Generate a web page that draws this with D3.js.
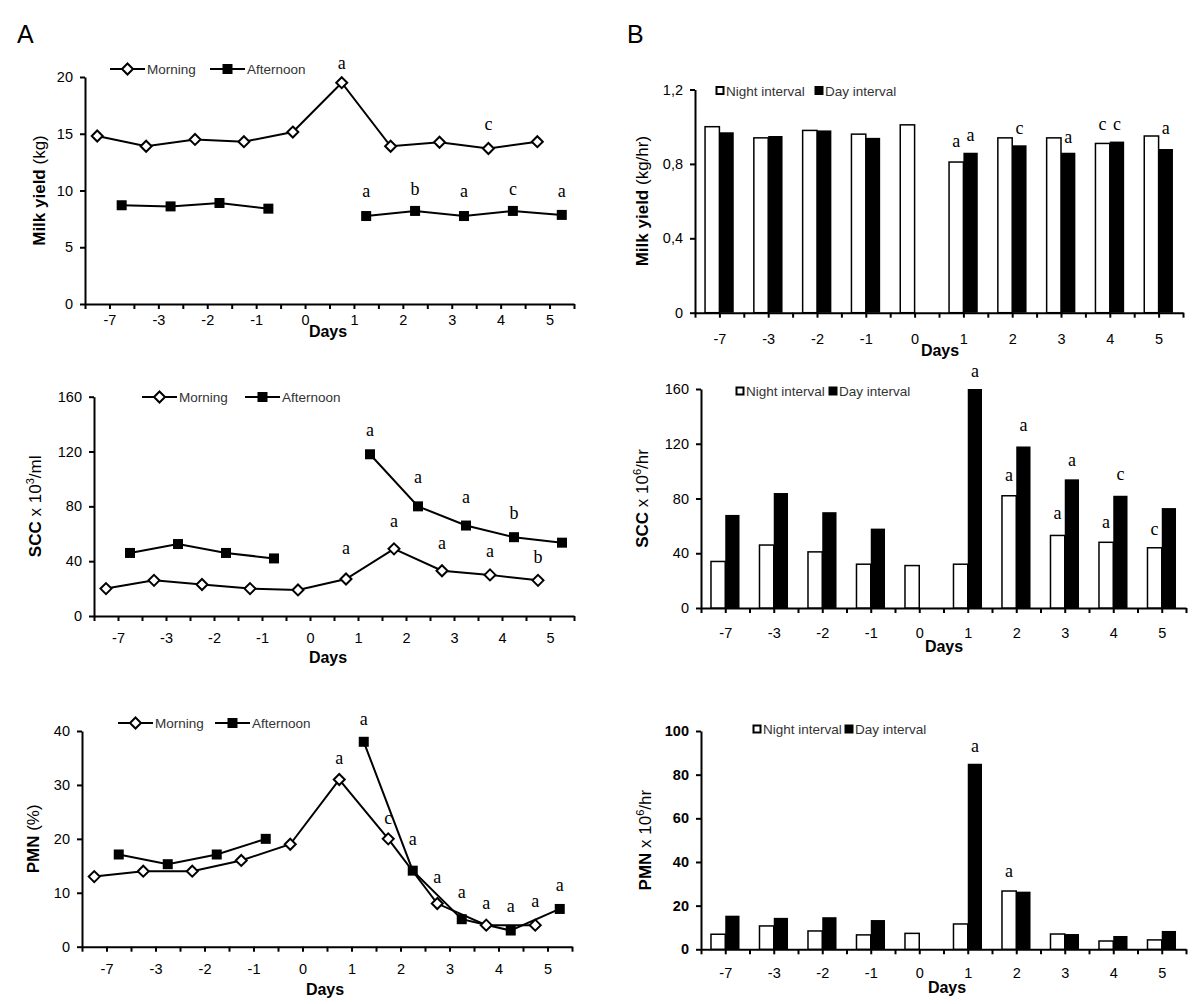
<!DOCTYPE html>
<html>
<head>
<meta charset="utf-8">
<script src="https://cdn.jsdelivr.net/npm/d3@7/dist/d3.min.js"></script>
<style>
  html, body { margin: 0; padding: 0; background: #fff; }
  svg { display: block; }
</style>
</head>
<body>
<svg id="chart" width="1200" height="1004"></svg>
<script>
// ---------------- DATA ----------------
const days = ["-7", "-3", "-2", "-1", "0", "1", "2", "3", "4", "5"];

// Panel A: morning / afternoon milkings
const milkMorning   = [14.8, 13.9, 14.5, 14.3, 15.15, 19.5, 13.9, 14.25, 13.7, 14.3];
const milkAfternoon = [8.7, 8.6, 8.9, 8.4, null, 7.75, 8.2, 7.75, 8.2, 7.85];
const sccMorning    = [20, 26, 23, 20, 19, 27, 49, 33, 30, 26];
const sccAfternoon  = [46, 52.5, 46, 42, null, 118, 80, 66, 57.5, 53.5];
const pmnMorning    = [13, 14, 14, 16, 19, 31, 20, 8, 4, 4];
const pmnAfternoon  = [17.1, 15.3, 17.1, 20, null, 38, 14.1, 5.1, 3, 7];

// Panel B: night / day intervals
const milkNight = [1.0, 0.94, 0.98, 0.96, 1.01, 0.81, 0.94, 0.94, 0.91, 0.95];
const milkDay   = [0.97, 0.95, 0.98, 0.94, null, 0.86, 0.90, 0.86, 0.92, 0.88];
const sccNight  = [34, 46, 41, 32, 31, 32, 82, 53, 48, 44];
const sccDay    = [68, 84, 70, 58, null, 160, 118, 94, 82, 73];
const pmnNight  = [6.9, 10.7, 8.4, 6.6, 7.3, 11.6, 26.7, 7.0, 3.8, 4.3];
const pmnDay    = [15.4, 14.4, 14.7, 13.4, null, 85, 26.4, 7.0, 6.1, 8.4];

// tick values
const milkTicks     = [0, 5, 10, 15, 20];
const sccTicks      = [0, 40, 80, 120, 160];
const pmnPctTicks   = [0, 10, 20, 30, 40];
const milkRateTicks = [0, 0.4, 0.8, 1.2];
const pmnRateTicks  = [0, 20, 40, 60, 80, 100];

// significance letters: day, series, letter, value at letter baseline
const milkLetters = [
  ["1", "morning", "a", 20.7], ["4", "morning", "c", 15.3],
  ["1", "afternoon", "a", 9.4], ["2", "afternoon", "b", 9.6], ["3", "afternoon", "a", 9.4],
  ["4", "afternoon", "c", 9.6], ["5", "afternoon", "a", 9.4]
];
const sccLetters = [
  ["1", "morning", "a", 45.2], ["2", "morning", "a", 64.7], ["3", "morning", "a", 49.1],
  ["4", "morning", "a", 42.8], ["5", "morning", "b", 38.4],
  ["1", "afternoon", "a", 131.5], ["2", "afternoon", "a", 96.8], ["3", "afternoon", "a", 82.2],
  ["4", "afternoon", "b", 70.8]
];
const pmnLetters = [
  ["1", "morning", "a", 33.9], ["2", "morning", "c", 22.75], ["3", "morning", "a", 11.9],
  ["4", "morning", "a", 7.05], ["5", "morning", "a", 7.36],
  ["1", "afternoon", "a", 41.2], ["2", "afternoon", "a", 18.9], ["3", "afternoon", "a", 9.1],
  ["4", "afternoon", "a", 6.4], ["5", "afternoon", "a", 10.4]
];
const milkRateLetters = [
  ["1", "night", "a", 0.891], ["1", "day", "a", 0.922], ["2", "day", "c", 0.963],
  ["3", "day", "a", 0.91], ["4", "night", "c", 0.981], ["4", "day", "c", 0.981],
  ["5", "day", "a", 0.963]
];
const sccRateLetters = [
  ["1", "day", "a", 168.5], ["2", "day", "a", 129.5], ["2", "night", "a", 92.9],
  ["3", "day", "a", 103.7], ["3", "night", "a", 64.9], ["4", "day", "c", 93.4],
  ["4", "night", "a", 58.1], ["5", "night", "c", 53.2]
];
const pmnRateLetters = [
  ["1", "day", "a", 90.5], ["2", "night", "a", 33.0]
];

// ---------------- DRAWING ----------------
const SANS = "'Liberation Sans', Arial, Helvetica, sans-serif";
const SERIF = "'Liberation Serif', 'Times New Roman', serif";
const svg = d3.select("#chart");

svg.append("text").attr("x", 17).attr("y", 43).attr("font-family", SANS)
  .attr("font-size", 25).text("A");
svg.append("text").attr("x", 627).attr("y", 43).attr("font-family", SANS)
  .attr("font-size", 25).text("B");

function styleAxis(g) {
  g.select(".domain").attr("stroke", "#000").attr("stroke-width", 2);
  g.selectAll(".tick line").attr("stroke", "#000").attr("stroke-width", 2);
  g.selectAll(".tick text").attr("fill", "#000").attr("font-family", SANS).attr("font-size", 14.5);
}

function drawFrame(cfg, yMax, ticks, fmt) {
  const x = d3.scaleLinear().domain([0, days.length]).range([cfg.l, cfg.r]);
  const y = d3.scaleLinear().domain([0, yMax]).range([cfg.b, cfg.t]);

  const xa = svg.append("g").attr("transform", `translate(0,${cfg.b})`)
    .call(d3.axisBottom(x).tickValues(d3.range(0, days.length + 0.01, 0.5))
      .tickSize(5).tickSizeOuter(0)
      .tickFormat(v => (v % 1 === 0.5) ? days[Math.floor(v)] : ""));
  styleAxis(xa);
  xa.selectAll(".tick text").attr("y", cfg.lab - cfg.b).attr("dy", 0);

  const ya = svg.append("g").attr("transform", `translate(${cfg.l},0)`)
    .call(d3.axisLeft(y).tickValues(ticks).tickSize(5).tickSizeOuter(0).tickPadding(7)
      .tickFormat(fmt || (v => String(v))));
  styleAxis(ya);
  if (cfg.boldY) ya.selectAll(".tick text").attr("font-weight", "bold");

  svg.append("text").attr("x", cfg.daysX).attr("y", cfg.daysY).attr("text-anchor", "middle")
    .attr("font-family", SANS).attr("font-size", 16).attr("font-weight", "bold").text("Days");

  const t = svg.append("text")
    .attr("transform", `translate(${cfg.titleX},${(cfg.t + cfg.b) / 2}) rotate(-90)`)
    .attr("text-anchor", "middle").attr("font-family", SANS).attr("font-size", 17);
  cfg.title.forEach(p => {
    const ts = t.append("tspan").text(p.s);
    if (p.bold) ts.attr("font-weight", "bold");
    if (p.sup) ts.attr("font-size", 11).attr("dy", -7);
    if (p.after) ts.attr("dy", 7);
  });
  return { x, y };
}

function diamond(g, cx, cy) {
  g.append("path").attr("d", `M${cx},${cy - 5.5}L${cx + 5.5},${cy}L${cx},${cy + 5.5}L${cx - 5.5},${cy}Z`)
    .attr("fill", "#fff").attr("stroke", "#000").attr("stroke-width", 2);
}
function square(g, cx, cy) {
  g.append("rect").attr("x", cx - 5).attr("y", cy - 5).attr("width", 10).attr("height", 10)
    .attr("fill", "#000");
}

function lineChart(cfg, yMax, ticks, morning, afternoon, letters) {
  const { x, y } = drawFrame(cfg, yMax, ticks);
  const g = svg.append("g");
  const series = [
    { vals: morning, off: 0.25, mk: diamond },
    { vals: afternoon, off: 0.75, mk: square }
  ];
  const line = d3.line().defined(d => d.v !== null).x(d => x(d.i + d.off)).y(d => y(d.v));
  series.forEach(s => {
    const pts = s.vals.map((v, i) => ({ v, i, off: s.off }));
    g.append("path").datum(pts).attr("d", line).attr("fill", "none")
      .attr("stroke", "#000").attr("stroke-width", 2);
  });
  series.forEach(s => {
    s.vals.forEach((v, i) => { if (v !== null) s.mk(g, x(i + s.off), y(v)); });
  });
  letters.forEach(([d, s, txt, v]) => {
    const i = days.indexOf(d);
    g.append("text").attr("x", x(i + (s === "morning" ? 0.25 : 0.75))).attr("y", y(v))
      .attr("text-anchor", "middle").attr("font-family", SERIF).attr("font-size", 18).text(txt);
  });
  // legend
  const L = cfg.leg;
  const lg = svg.append("g");
  [[L.m, diamond, "Morning"], [L.a, square, "Afternoon"]].forEach(([p, mk, name]) => {
    lg.append("line").attr("x1", p[0]).attr("x2", p[1]).attr("y1", L.y).attr("y2", L.y)
      .attr("stroke", "#000").attr("stroke-width", 2);
    mk(lg, (p[0] + p[1]) / 2, L.y);
    lg.append("text").attr("x", p[1] + 2).attr("y", L.y + 5).attr("font-family", SANS)
      .attr("font-size", 13.5).attr("fill", "#333").text(name);
  });
}

function barChart(cfg, yMax, ticks, night, day, letters, fmt) {
  const { y } = drawFrame(cfg, yMax, ticks, fmt);
  const xb = d3.scaleBand().domain(days).range([cfg.l, cfg.r]).padding(0);
  const sub = d3.scaleBand().domain(["night", "day"]).range([0, xb.bandwidth()])
    .paddingInner(0).paddingOuter(0.7);
  const g = svg.append("g");
  days.forEach((d, i) => {
    if (night[i] !== null)
      g.append("rect").attr("x", xb(d) + sub("night")).attr("y", y(night[i]))
        .attr("width", sub.bandwidth()).attr("height", y(0) - y(night[i]))
        .attr("fill", "#fff").attr("stroke", "#000").attr("stroke-width", 1.5);
    if (day[i] !== null)
      g.append("rect").attr("x", xb(d) + sub("day")).attr("y", y(day[i]))
        .attr("width", sub.bandwidth()).attr("height", y(0) - y(day[i]))
        .attr("fill", "#000");
  });
  letters.forEach(([d, s, txt, v]) => {
    g.append("text").attr("x", xb(d) + sub(s) + sub.bandwidth() / 2).attr("y", y(v))
      .attr("text-anchor", "middle").attr("font-family", SERIF).attr("font-size", 18).text(txt);
  });
  const L = cfg.leg;
  const lg = svg.append("g");
  lg.append("rect").attr("x", L.n - 3.5).attr("y", L.y - 3.5).attr("width", 7).attr("height", 7)
    .attr("fill", "#fff").attr("stroke", "#000").attr("stroke-width", 2);
  lg.append("text").attr("x", L.n + 6).attr("y", L.y + 5).attr("font-family", SANS)
    .attr("font-size", 13.5).attr("fill", "#333").text("Night interval");
  lg.append("rect").attr("x", L.d - 4.5).attr("y", L.y - 4.5).attr("width", 9).attr("height", 9)
    .attr("fill", "#000");
  lg.append("text").attr("x", L.d + 6).attr("y", L.y + 5).attr("font-family", SANS)
    .attr("font-size", 13.5).attr("fill", "#333").text("Day interval");
}

const commaFmt = d3.formatLocale({ decimal: ",", thousands: ".", grouping: [3], currency: ["", ""] }).format("~g");

lineChart({ l: 85, r: 574, t: 77, b: 304, lab: 325, daysX: 328, daysY: 337, titleX: 45,
  title: [{ s: "Milk yield", bold: true }, { s: " (kg)" }],
  leg: { y: 69, m: [110, 145], a: [210, 245] } },
  20, milkTicks, milkMorning, milkAfternoon, milkLetters);

lineChart({ l: 94, r: 574, t: 396.7, b: 616, lab: 643, daysX: 328, daysY: 663, titleX: 41,
  title: [{ s: "SCC", bold: true }, { s: " x 10" }, { s: "3", sup: true }, { s: "/ml", after: true }],
  leg: { y: 397, m: [142, 177], a: [245, 280] } },
  160, sccTicks, sccMorning, sccAfternoon, sccLetters);

lineChart({ l: 82, r: 572, t: 731, b: 946.7, lab: 974, daysX: 325, daysY: 995, titleX: 39,
  title: [{ s: "PMN", bold: true }, { s: " (%)" }],
  leg: { y: 723, m: [118, 153], a: [215, 250] } },
  40, pmnPctTicks, pmnMorning, pmnAfternoon, pmnLetters);

barChart({ l: 695, r: 1183, t: 89.5, b: 312.7, lab: 344, daysX: 940, daysY: 356, titleX: 648,
  title: [{ s: "Milk yield", bold: true }, { s: " (kg/hr)" }],
  leg: { y: 90.5, n: 720, d: 819 } },
  1.2, milkRateTicks, milkNight, milkDay, milkRateLetters, commaFmt);

barChart({ l: 701, r: 1186, t: 389, b: 608, lab: 638, daysX: 944, daysY: 652, titleX: 648,
  title: [{ s: "SCC", bold: true }, { s: " x 10" }, { s: "6", sup: true }, { s: "/hr", after: true }],
  leg: { y: 391, n: 740, d: 833 } },
  160, sccTicks, sccNight, sccDay, sccRateLetters);

barChart({ l: 701, r: 1186, t: 731, b: 949.3, lab: 978, daysX: 947, daysY: 993, titleX: 651,
  boldY: true,
  title: [{ s: "PMN", bold: true }, { s: " x 10" }, { s: "6", sup: true }, { s: "/hr", after: true }],
  leg: { y: 729, n: 757, d: 849 } },
  100, pmnRateTicks, pmnNight, pmnDay, pmnRateLetters);
</script>
</body>
</html>
